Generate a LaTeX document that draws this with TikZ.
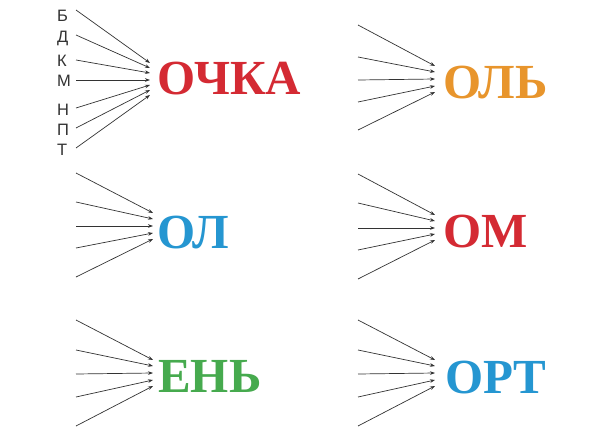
\documentclass[tikz,border=0pt]{standalone}
\usepackage{fontspec}
\newfontfamily\wordfont{Liberation Serif}
\newfontfamily\letterfont{Liberation Sans}
\usetikzlibrary{arrows.meta}
\definecolor{wred}{HTML}{D42A33}
\definecolor{worange}{HTML}{E8952C}
\definecolor{wblue}{HTML}{2596D1}
\definecolor{wgreen}{HTML}{46AA4E}
\definecolor{arrgray}{HTML}{333333}
\begin{document}
\begin{tikzpicture}[x=1pt,y=-1pt,
  word/.style={anchor=base west,inner sep=0pt,font=\wordfont\bfseries\fontsize{49}{49}\selectfont},
  ltr/.style={anchor=west,inner sep=0pt,font=\letterfont\fontsize{16.5}{16.5}\selectfont,text=arrgray},
  arr/.style={draw=arrgray,line width=0.7pt,-{Stealth[length=5pt,width=3.6pt]}}]
\useasboundingbox[fill=white] (0,0) rectangle (605,444);
% words
\node[word,text=wred]    (w1) at (157,95)  {ОЧКА};
\node[word,text=worange] (w2) at (443,98)  {ОЛЬ};
\node[word,text=wblue]   (w3) at (157,248) {ОЛ};
\node[word,text=wred]    (w4) at (443,247) {ОМ};
\node[word,text=wgreen]  (w5) at (158,392) {ЕНЬ};
\node[word,text=wblue]   (w6) at (445,393) {ОРТ};
% letters
\foreach \n/\t/\yy in {1/Б/16,2/Д/38,3/К/61,4/М/81,5/Н/110,6/П/130,7/Т/150}{
  \node[ltr] (l\n) at (57,\yy) {\t};
}
% group 1 arrows
\foreach \n/\ys/\ye in {1/10/63,2/35/68,3/60/73,4/80/80,5/108/85,6/128/90,7/148/95}{
  \coordinate (s1\n) at (76,\ys);
  \coordinate (e1\n) at (150,\ye);
  \draw[arr] (s1\n) -- (e1\n);
}
% group 2
\foreach \n/\ys/\ye in {1/25/66,2/57/72,3/80/79,4/102/86,5/130/92}{
  \coordinate (s2\n) at (358,\ys);
  \coordinate (e2\n) at (435,\ye);
  \draw[arr] (s2\n) -- (e2\n);
}
% group 3
\foreach \n/\ys/\ye in {1/173/213,2/202/219,3/226/226,4/248/233,5/277/239}{
  \coordinate (s3\n) at (76,\ys);
  \coordinate (e3\n) at (153,\ye);
  \draw[arr] (s3\n) -- (e3\n);
}
% group 4
\foreach \n/\ys/\ye in {1/174/215,2/203/221,3/228/228,4/250/234,5/279/240}{
  \coordinate (s4\n) at (358,\ys);
  \coordinate (e4\n) at (435,\ye);
  \draw[arr] (s4\n) -- (e4\n);
}
% group 5
\foreach \n/\ys/\ye in {1/320/360,2/350/366,3/374/373,4/397/380,5/426/386}{
  \coordinate (s5\n) at (76,\ys);
  \coordinate (e5\n) at (153,\ye);
  \draw[arr] (s5\n) -- (e5\n);
}
% group 6
\foreach \n/\ys/\ye in {1/320/360,2/350/366,3/374/373,4/397/380,5/426/386}{
  \coordinate (s6\n) at (358,\ys);
  \coordinate (e6\n) at (435,\ye);
  \draw[arr] (s6\n) -- (e6\n);
}
\end{tikzpicture}
\end{document}
